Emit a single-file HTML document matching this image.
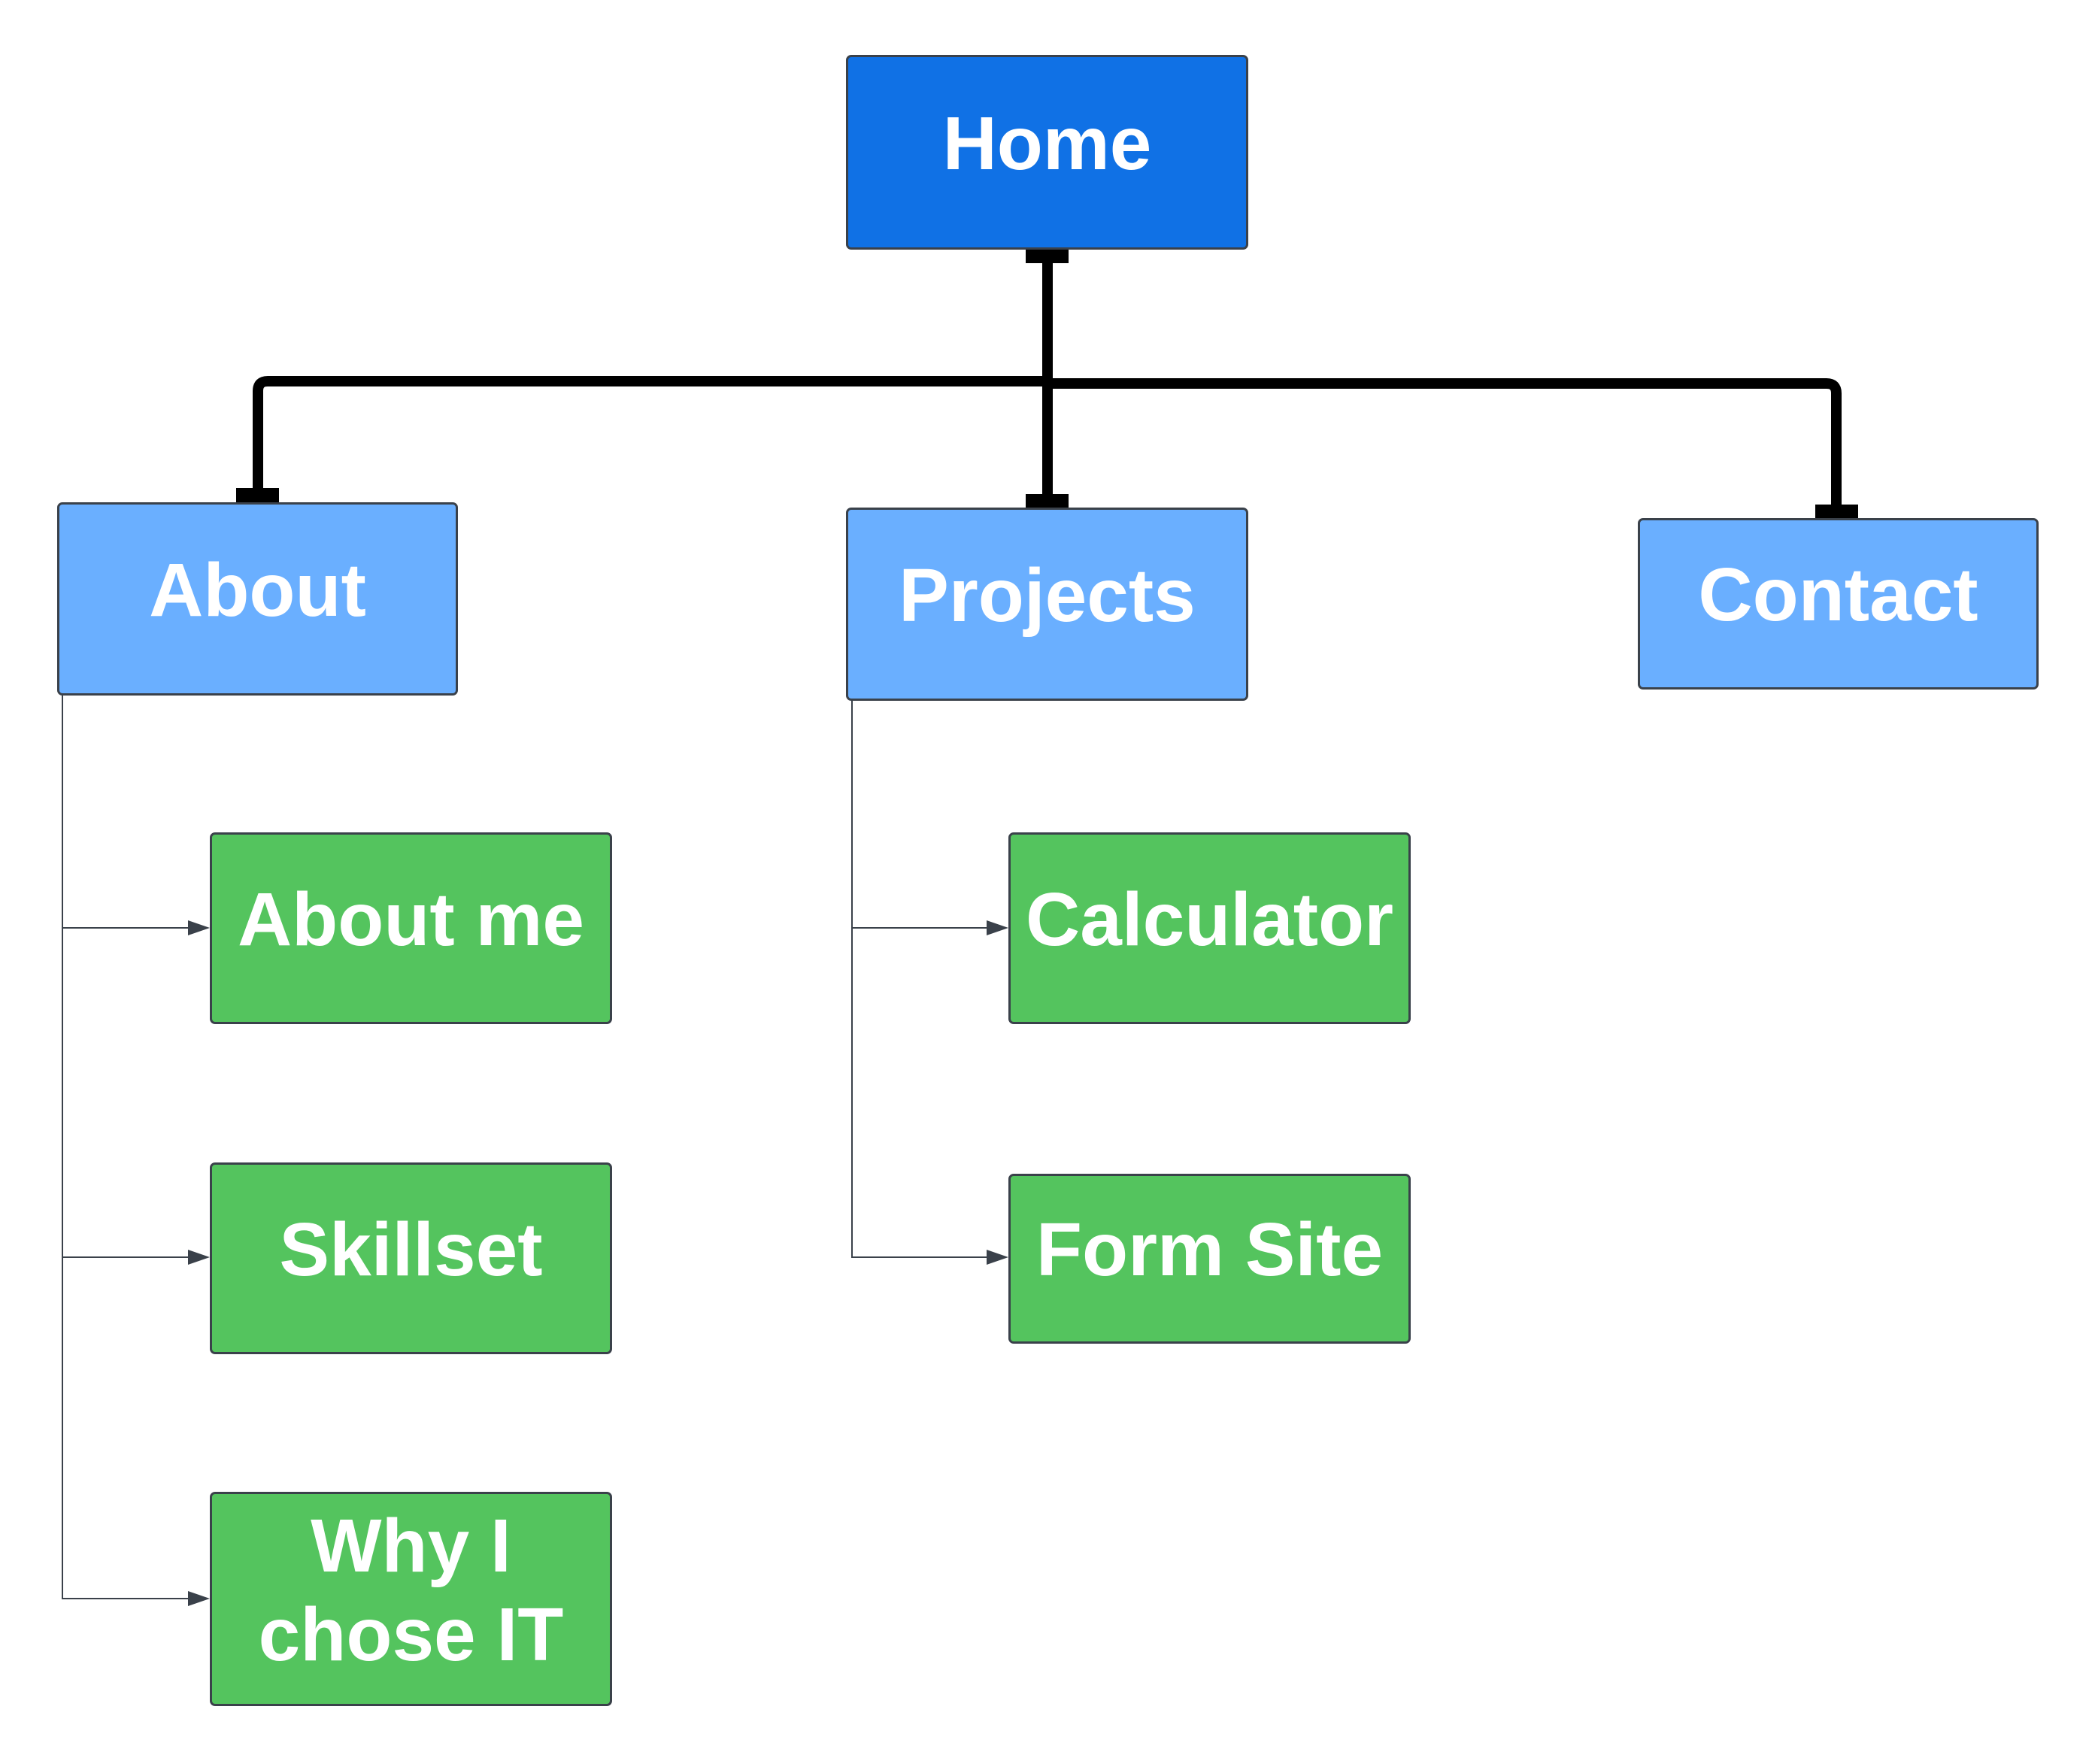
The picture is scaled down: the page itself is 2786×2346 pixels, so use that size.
<!DOCTYPE html>
<html><head><meta charset="utf-8"><style>
body{margin:0;background:#fff;width:2786px;height:2346px;position:relative;overflow:hidden;font-family:"Liberation Sans",Arial,sans-serif}
.b{position:absolute;box-sizing:border-box;border:3px solid #3a414a;border-radius:7px;display:flex;align-items:center;justify-content:center;text-align:center;color:#fff;font-weight:bold;font-size:100px;line-height:1.18;padding-bottom:24px}
.h{background:#1071e5}.l{background:#6aafff}.g{background:#54c45e}
svg{position:absolute;left:0;top:0}
</style></head><body>
<svg width="2786" height="2346">
<g stroke="#000" stroke-width="14" fill="none">
<line x1="1393" y1="340" x2="1393" y2="670"/>
<path d="M343 660 V520 Q343 507 356 507 H1393"/>
<path d="M1393 510 H2429 Q2442 510 2442 523 V680"/>
</g>
<g fill="#000">
<rect x="1364" y="330" width="57" height="20"/>
<rect x="314" y="649" width="57" height="20"/>
<rect x="1364" y="657" width="57" height="20"/>
<rect x="2414" y="671" width="57" height="20"/>
</g>
<g stroke="#3a414a" stroke-width="2" fill="none">
<path d="M83 925 V2126 H255"/>
<path d="M83 1234 H255"/><path d="M83 1672 H255"/>
<path d="M1133 932 V1672 H1318"/>
<path d="M1133 1234 H1318"/>
</g>
<g fill="#3a414a">
<polygon points="250,1224 279,1234 250,1244"/>
<polygon points="250,1662 279,1672 250,1682"/>
<polygon points="250,2116 279,2126 250,2136"/>
<polygon points="1312,1224 1341,1234 1312,1244"/>
<polygon points="1312,1662 1341,1672 1312,1682"/>
</g>
</svg>
<div class="b h" style="left:1125px;top:73px;width:535px;height:259px">Home</div>
<div class="b l" style="left:76px;top:668px;width:533px;height:257px">About</div>
<div class="b l" style="left:1125px;top:675px;width:535px;height:257px">Projects</div>
<div class="b l" style="left:2178px;top:689px;width:533px;height:228px">Contact</div>
<div class="b g" style="left:279px;top:1107px;width:535px;height:255px">About me</div>
<div class="b g" style="left:279px;top:1546px;width:535px;height:255px">Skillset</div>
<div class="b g" style="left:279px;top:1984px;width:535px;height:285px">Why I<br>chose IT</div>
<div class="b g" style="left:1341px;top:1107px;width:535px;height:255px">Calculator</div>
<div class="b g" style="left:1341px;top:1561px;width:535px;height:226px">Form Site</div>
</body></html>
